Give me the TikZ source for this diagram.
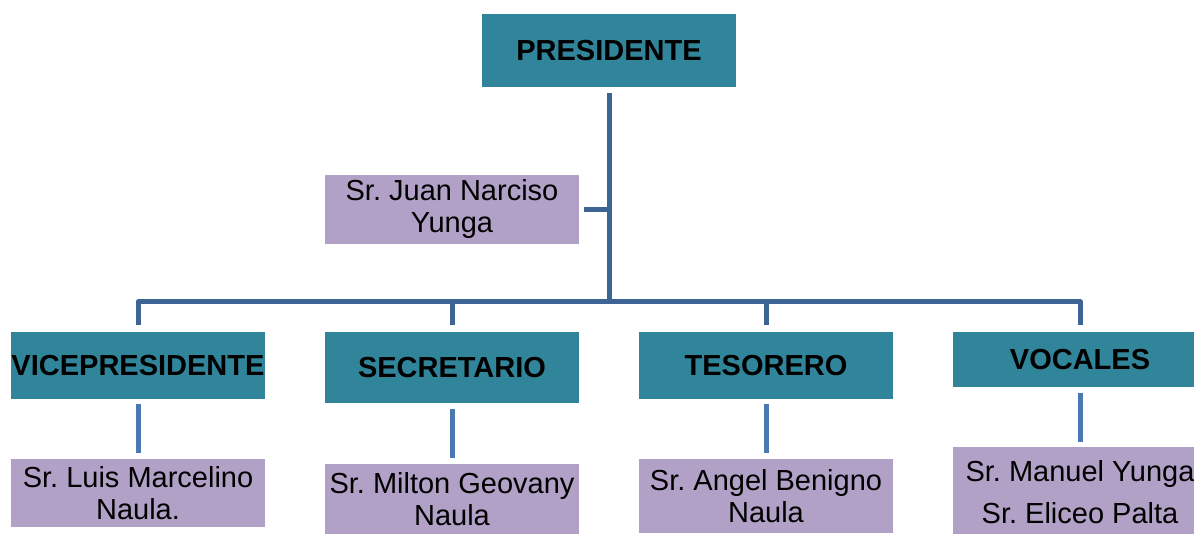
\documentclass[tikz,border=0pt]{standalone}
\usepackage{fontspec}
\setmainfont{Liberation Sans}
\frenchspacing
\definecolor{tealbox}{RGB}{49,133,155}
\definecolor{lavbox}{RGB}{178,161,199}
\definecolor{busblue}{RGB}{62,100,150}
\definecolor{subblue}{RGB}{74,120,176}
\tikzset{
  rolebox/.style={fill=tealbox, inner sep=0pt, align=center, text=black,
    font=\fontsize{29}{32}\selectfont\bfseries\frenchspacing, minimum width=254pt},
  namebox/.style={fill=lavbox, inner sep=0pt, align=center, text=black,
    font=\fontsize{29}{32}\selectfont\frenchspacing, minimum width=254pt},
  busline/.style={draw=busblue, line width=5pt, line join=round},
  subline/.style={draw=subblue, line width=5pt},
}
\begin{document}
\begin{tikzpicture}[x=1pt,y=-1pt]
\useasboundingbox (0,0) rectangle (1194,534);
\clip (0,0) rectangle (1194,534);
% role boxes
\node[rolebox, minimum height=73pt] (pres) at (609,50.5) {PRESIDENTE};
\node[namebox, minimum height=69pt] (juan) at (452,209.5) {Sr. Juan Narciso\\Yunga};
\node[rolebox, minimum height=67pt] (vp) at (138,365.5) {VICEPRESIDENTE};
\node[rolebox, minimum height=71pt] (sec) at (452,367.5) {SECRETARIO};
\node[rolebox, minimum height=67pt] (tes) at (766,365.5) {TESORERO};
\node[rolebox, minimum height=55pt] (voc) at (1080,359.5) {VOCALES};
% name boxes
\node[namebox, minimum height=68pt] (luis) at (138,493) {Sr. Luis Marcelino\\Naula.};
\node[namebox, minimum height=72pt] (milton) at (452,499.5) {Sr. Milton Geovany\\Naula};
\node[namebox, minimum height=74pt] (angel) at (766,496) {Sr. Angel Benigno\\Naula};
\node[namebox, minimum height=90pt, font=\fontsize{29}{42}\selectfont\frenchspacing] (manuel) at (1080,492) {Sr. Manuel Yunga\\Sr. Eliceo Palta};
% connectors
\coordinate (j) at (609,302);
\draw[busline] ([yshift=-6pt]pres.south) -- (j);
\draw[busline] ([xshift=5pt]juan.east) -- (juan.east -| j);
\draw[busline] ([yshift=7pt]vp.north) -- (vp.north |- j) -- (voc.north |- j) -- ([yshift=7pt]voc.north);
\draw[busline] ([yshift=7pt]sec.north) -- (sec.north |- j);
\draw[busline] ([yshift=7pt]tes.north) -- (tes.north |- j);
\draw[subline, shorten <=5pt, shorten >=6pt] (vp.south) -- (luis.north);
\draw[subline, shorten <=6pt, shorten >=5pt] (sec.south) -- (milton.north);
\draw[subline, shorten <=5pt, shorten >=6pt] (tes.south) -- (angel.north);
\draw[subline, shorten <=6pt, shorten >=5pt] (voc.south) -- (manuel.north);
\end{tikzpicture}
\end{document}
